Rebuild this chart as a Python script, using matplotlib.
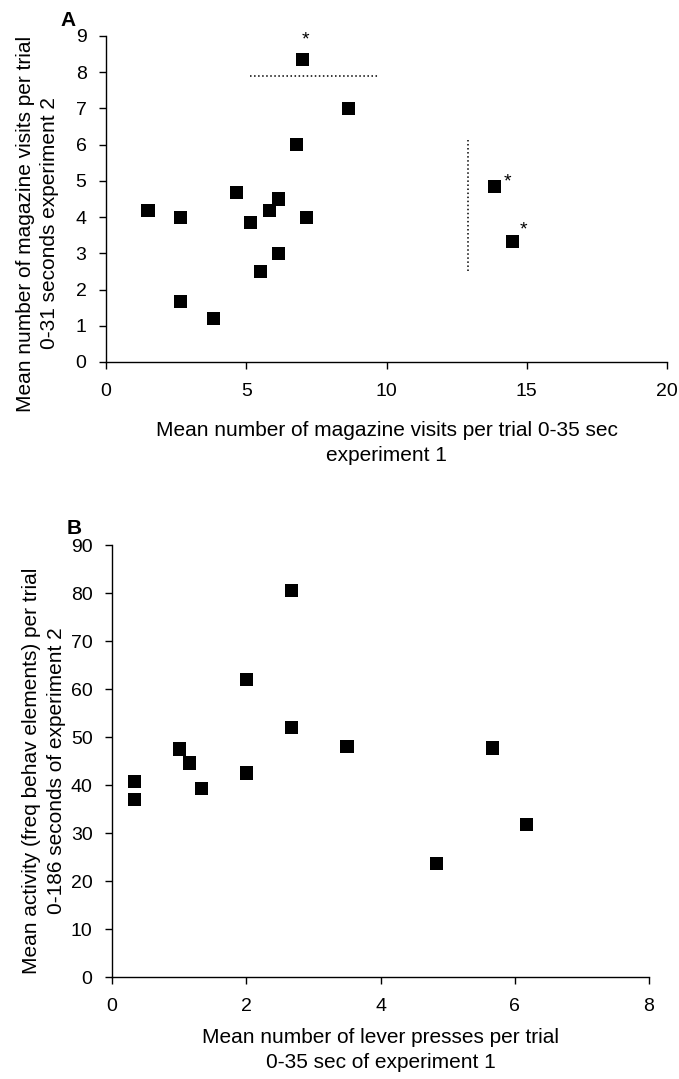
import matplotlib
matplotlib.use("Agg")
import matplotlib.pyplot as plt

plt.rcParams['font.family'] = ['Liberation Sans', 'DejaVu Sans']

# ---- Panel A data ----
a_x = [1.5, 2.66, 2.67, 3.84, 4.66, 5.16, 5.5, 5.82, 6.15, 6.16, 6.8, 7.0, 7.15, 8.65, 13.85, 14.5]
a_y = [4.18, 4.0, 1.68, 1.19, 4.68, 3.85, 2.5, 4.18, 4.5, 3.0, 6.0, 8.35, 4.0, 7.0, 4.85, 3.33]
a_starred = [(7.0, 8.35), (13.85, 4.85), (14.5, 3.33)]
a_hline_y = 7.9
a_hline_x = [5.13, 9.7]
a_vline_x = 12.92
a_vline_y = [2.5, 6.13]
a_xticks = [0, 5, 10, 15, 20]
a_yticks = list(range(0, 10))

# ---- Panel B data ----
b_x = [0.33, 0.33, 1.0, 1.16, 1.33, 2.0, 2.0, 2.67, 2.67, 3.5, 4.83, 5.67, 6.17]
b_y = [40.7, 37.0, 47.5, 44.6, 39.3, 42.5, 61.9, 80.6, 52.0, 48.0, 23.6, 47.7, 31.8]
b_xticks = [0, 2, 4, 6, 8]
b_yticks = list(range(0, 100, 10))

W, H = 679, 1079
fig = plt.figure(figsize=(W / 100, H / 100), dpi=100)

def px_axes(l, r, t, b):
    return fig.add_axes([l / W, 1 - b / H, (r - l) / W, (b - t) / H])

TFS = 14   # tick labels
LFS = 15   # axis labels

def style(ax):
    for s in ['top', 'right']:
        ax.spines[s].set_visible(False)
    for s in ['left', 'bottom']:
        ax.spines[s].set_linewidth(1.0)
    ax.tick_params(direction='out', length=5, width=1, labelsize=TFS, pad=9)
    ax.tick_params(axis='x', pad=10)

# Panel A
axA = px_axes(106, 667, 36, 362)
axA.scatter(a_x, a_y, marker='s', s=90, color='black', edgecolors='none', clip_on=False, zorder=3)
axA.plot(a_hline_x, [a_hline_y, a_hline_y], linestyle=':', color='black', lw=1.1)
axA.plot([a_vline_x, a_vline_x], a_vline_y, linestyle=':', color='black', lw=1.1)
star_offsets = [(2, 14), (9, 3), (8, 8)]
for (sx, sy), off in zip(a_starred, star_offsets):
    axA.annotate('*', (sx, sy), xytext=off, textcoords='offset points',
                 ha='center', va='center', fontsize=14)
axA.set_xlim(0, 20)
axA.set_ylim(0, 9)
axA.set_xticks(a_xticks)
axA.set_yticks(a_yticks)
style(axA)
axA.set_xlabel('Mean number of magazine visits per trial 0-35 sec\nexperiment 1',
               fontsize=LFS, linespacing=1.35)
axA.xaxis.set_label_coords(0.5, -0.182)
axA.set_ylabel('Mean number of magazine visits per trial\n0-31 seconds experiment 2',
               fontsize=LFS, linespacing=1.33)
axA.yaxis.set_label_coords(-0.0835, 0.425)
fig.text(68 / W, 1 - 20 / H, 'A', fontsize=LFS, fontweight='bold', ha='center', va='center')

# Panel B
axB = px_axes(112, 649, 545, 977)
axB.scatter(b_x, b_y, marker='s', s=90, color='black', edgecolors='none', clip_on=False, zorder=3)
axB.set_xlim(0, 8)
axB.set_ylim(0, 90)
axB.set_xticks(b_xticks)
axB.set_yticks(b_yticks)
style(axB)
axB.set_xlabel('Mean number of lever presses per trial\n0-35 sec of experiment 1',
               fontsize=LFS, linespacing=1.4)
axB.xaxis.set_label_coords(0.5, -0.119)
axB.set_ylabel('Mean activity (freq behav elements) per trial\n0-186 seconds of experiment 2',
               fontsize=LFS, linespacing=1.4)
axB.yaxis.set_label_coords(-0.085, 0.477)
fig.text(74 / W, 1 - 529 / H, 'B', fontsize=LFS, fontweight='bold', ha='center', va='center')

fig.savefig('out.png', dpi=100)
